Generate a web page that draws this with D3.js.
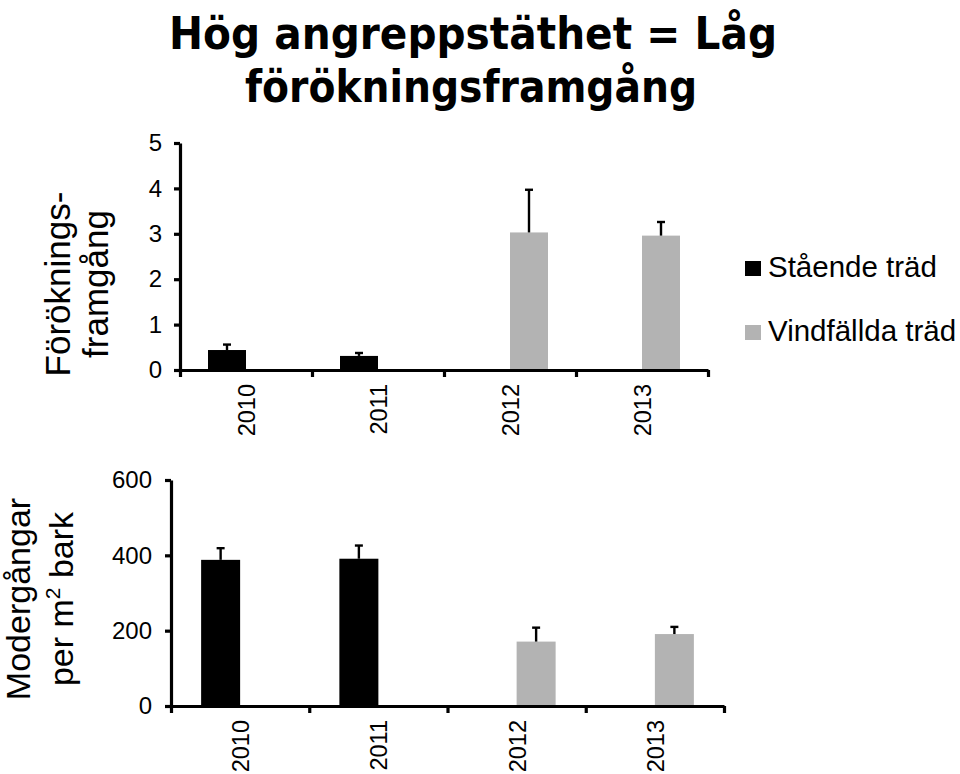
<!DOCTYPE html>
<html>
<head>
<meta charset="utf-8">
<script src="https://cdn.jsdelivr.net/npm/d3@7"></script>
<style>
  body { margin: 0; background: #fff; }
  svg { display: block; }
  text { font-family: "Liberation Sans", Arial, sans-serif; fill: #000; }
</style>
</head>
<body>
<div id="chart"></div>
<script>
var years = ["2010", "2011", "2012", "2013"];
var seriesNames = ["Stående träd", "Vindfällda träd"];
var seriesColors = ["#000000", "#b3b3b3"];

// Förökningsframgång (top panel)
var successStanding = [0.44, 0.31, null, null];
var successStandingErr = [0.12, 0.065, null, null];
var successWindfall = [null, null, 3.03, 2.96];
var successWindfallErr = [null, null, 0.94, 0.30];
var successTicks = [0, 1, 2, 3, 4, 5];

// Modergångar per m2 bark (bottom panel)
var galleriesStanding = [388, 391, null, null];
var galleriesStandingErr = [31, 35, null, null];
var galleriesWindfall = [null, null, 171, 191];
var galleriesWindfallErr = [null, null, 37, 19];
var galleriesTicks = [0, 200, 400, 600];

var W = 960, H = 774;
var svg = d3.select("#chart").append("svg")
  .attr("width", W)
  .attr("height", H);

// title
var title = svg.append("g")
  .attr("font-family", "'Comic Sans MS', 'DejaVu Sans', sans-serif")
  .attr("font-weight", "bold");
title.append("text")
  .attr("x", 473).attr("y", 49)
  .attr("text-anchor", "middle")
  .attr("font-size", 45)
  .attr("textLength", 608)
  .attr("lengthAdjust", "spacingAndGlyphs")
  .style("font-family", "inherit")
  .text("Hög angreppstäthet = Låg");
title.append("text")
  .attr("x", 471).attr("y", 102)
  .attr("text-anchor", "middle")
  .attr("font-size", 45)
  .attr("textLength", 452)
  .attr("lengthAdjust", "spacingAndGlyphs")
  .style("font-family", "inherit")
  .text("förökningsframgång");

function drawPanel(opt){
  var g = svg.append("g");
  var x0 = d3.scaleBand().domain(years).range([opt.left, opt.right]);
  var bw = x0.bandwidth();
  var x1 = d3.scaleBand().domain(seriesNames).range([bw/2 - opt.barW, bw/2 + opt.barW]);
  var y = d3.scaleLinear().domain(opt.domain).range([opt.bottom, opt.top]);
  // boundary ticks on x axis
  var xb = d3.scaleLinear().domain([0, years.length]).range([opt.left, opt.right]);

  var rows = [];
  years.forEach(function(yr, i){
    opt.series.forEach(function(s, k){
      if (s.values[i] != null) {
        rows.push({year: yr, name: seriesNames[k], color: seriesColors[k],
                   v: s.values[i], e: s.errors[i]});
      }
    });
  });

  g.selectAll("rect.bar").data(rows).enter().append("rect")
    .attr("class", "bar")
    .attr("x", function(d){ return x0(d.year) + x1(d.name); })
    .attr("width", x1.bandwidth())
    .attr("y", function(d){ return y(d.v); })
    .attr("height", function(d){ return y(0) - y(d.v); })
    .attr("fill", function(d){ return d.color; });

  // upper error bars
  var err = g.selectAll("g.err").data(rows).enter().append("g")
    .attr("class", "err")
    .attr("stroke", "#000")
    .attr("stroke-width", 2.4);
  err.append("line")
    .attr("x1", function(d){ return x0(d.year) + x1(d.name) + x1.bandwidth()/2; })
    .attr("x2", function(d){ return x0(d.year) + x1(d.name) + x1.bandwidth()/2; })
    .attr("y1", function(d){ return y(d.v); })
    .attr("y2", function(d){ return y(d.v + d.e); });
  err.append("line")
    .attr("x1", function(d){ return x0(d.year) + x1(d.name) + x1.bandwidth()/2 - 4; })
    .attr("x2", function(d){ return x0(d.year) + x1(d.name) + x1.bandwidth()/2 + 4; })
    .attr("y1", function(d){ return y(d.v + d.e); })
    .attr("y2", function(d){ return y(d.v + d.e); });

  // y axis
  var yAxis = g.append("g")
    .attr("transform", "translate(" + opt.left + ",0)")
    .call(d3.axisLeft(y).tickValues(opt.ticks).tickFormat(d3.format("d"))
      .tickSize(6).tickSizeOuter(0).tickPadding(opt.tickPad));
  yAxis.select(".domain").attr("stroke-width", 3.2);
  yAxis.selectAll(".tick line").attr("stroke-width", 3.2);
  yAxis.selectAll(".tick text").attr("font-size", 24).attr("font-family", "'Liberation Sans', Arial, sans-serif");

  // x axis
  var xAxis = g.append("g")
    .attr("transform", "translate(0," + opt.bottom + ")")
    .call(d3.axisBottom(xb).ticks(years.length).tickSize(7).tickSizeOuter(0).tickFormat(""));
  xAxis.select(".domain").attr("stroke-width", 3.2);
  xAxis.selectAll(".tick line").attr("stroke-width", 3.2);

  g.selectAll("text.xlab").data(years).enter().append("text")
    .attr("class", "xlab")
    .attr("transform", function(d){
      return "translate(" + (x0(d) + bw/2 + 9) + "," + (opt.bottom + 14) + ") rotate(-90)";
    })
    .attr("text-anchor", "end")
    .attr("font-size", 23.5)
    .text(function(d){ return d; });

  // y title
  var t = g.append("text")
    .attr("transform", "translate(" + opt.labelX + "," + opt.labelY + ") rotate(-90)")
    .attr("text-anchor", "middle")
    .attr("font-size", opt.labelSize);
  opt.label(t);
}

drawPanel({
  left: 180, right: 708, top: 143, bottom: 370, barW: 38, tickPad: 12,
  domain: [0, 5], ticks: successTicks,
  series: [{values: successStanding, errors: successStandingErr},
           {values: successWindfall, errors: successWindfallErr}],
  labelX: 70, labelY: 284, labelSize: 35,
  label: function(t){
    t.append("tspan").attr("x", 0).attr("dy", 0).text("Föröknings-");
    t.append("tspan").attr("x", 0).attr("dy", 38).text("framgång");
  }
});

drawPanel({
  left: 171, right: 724, top: 480, bottom: 706, barW: 39, tickPad: 13,
  domain: [0, 600], ticks: galleriesTicks,
  series: [{values: galleriesStanding, errors: galleriesStandingErr},
           {values: galleriesWindfall, errors: galleriesWindfallErr}],
  labelX: 30, labelY: 599, labelSize: 34,
  label: function(t){
    t.append("tspan").attr("x", 0).attr("dy", 0).text("Modergångar");
    t.append("tspan").attr("x", 0).attr("dy", 43).text("per m");
    t.append("tspan").attr("font-size", 21).attr("dy", -13).text("2");
    t.append("tspan").attr("dy", 13).text(" bark");
  }
});

// legend
var legend = svg.append("g").selectAll("g").data(seriesNames).enter().append("g")
  .attr("transform", function(d, i){ return "translate(745," + (261 + i * 64) + ")"; });
legend.append("rect")
  .attr("width", 16).attr("height", 15)
  .attr("fill", function(d, i){ return seriesColors[i]; });
legend.append("text")
  .attr("x", 23).attr("y", 16)
  .attr("font-size", 29.5)
  .text(function(d){ return d; });
</script>
</body>
</html>
